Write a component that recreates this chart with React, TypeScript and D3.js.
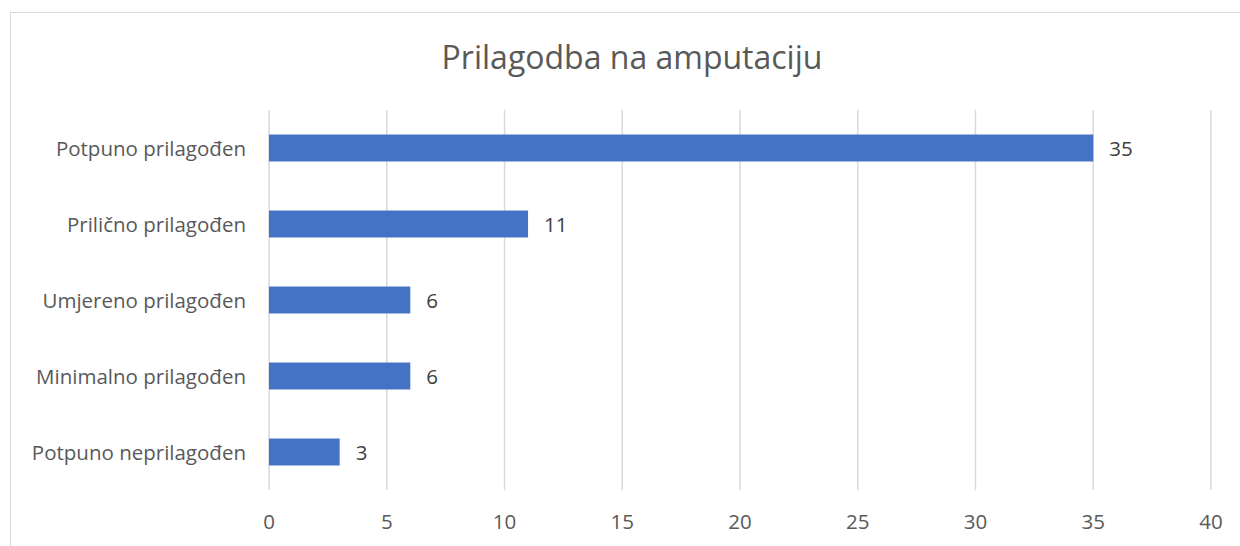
import React from "react";
import * as d3 from "d3";

const categories = [
  "Potpuno prilagođen",
  "Prilično prilagođen",
  "Umjereno prilagođen",
  "Minimalno prilagođen",
  "Potpuno neprilagođen",
];
const values = [35, 11, 6, 6, 3];
const xTicks = [0, 5, 10, 15, 20, 25, 30, 35, 40];
const title = "Prilagodba na amputaciju";

const W = 1240;
const H = 546;
const FONT = "'Open Sans', Lato, sans-serif";

export default function App() {
  const x = d3.scaleLinear().domain([0, 40]).range([269, 1211]);
  const y = d3.scaleBand().domain(categories).range([110, 490]).paddingInner(0.645).paddingOuter(0.3225);
  const textColor = "#595959";
  return (
    <svg width={W} height={H} style={{ position: "absolute", left: 0, top: 0 }} fontFamily={FONT}>
      <rect x={0} y={0} width={W} height={H} fill="#fff" />
      <rect x={10.5} y={12.5} width={W + 20} height={H + 20} fill="none" stroke="#d9d9d9" />
      <text x={632} y={69} textAnchor="middle" fontSize={32} fill={textColor}>{title}</text>
      {xTicks.map((t) => (
        <g key={t}>
          <line x1={x(t)} x2={x(t)} y1={110} y2={490} stroke="#d9d9d9" strokeWidth={1.5} />
          <text x={x(t)} y={529} textAnchor="middle" fontSize={20.5} fill={textColor}>{t}</text>
        </g>
      ))}
      {categories.map((c, i) => {
        const yy = y(c)!;
        const bw = y.bandwidth();
        return (
          <g key={c}>
            <rect x={x(0)} y={yy} width={x(values[i]) - x(0)} height={bw} fill="#4472C4" />
            <text x={x(values[i]) + 16} y={yy + bw / 2} dominantBaseline="central" fontSize={20.5} fill="#404040">{values[i]}</text>
            <text x={246} y={yy + bw / 2} dominantBaseline="central" textAnchor="end" fontSize={20.5} fill={textColor}>{c}</text>
          </g>
        );
      })}
    </svg>
  );
}
